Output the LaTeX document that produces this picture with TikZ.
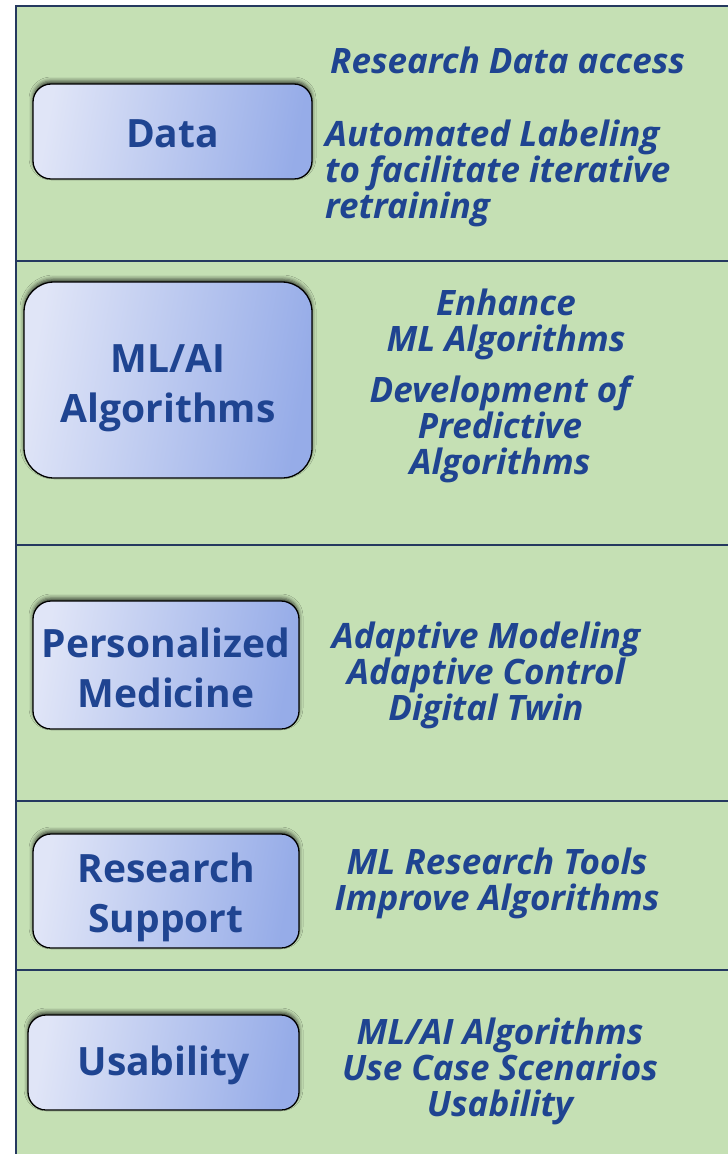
\documentclass[tikz,border=0pt]{standalone}
\usepackage{fontspec}
\setmainfont{Open Sans}
\usetikzlibrary{shadows.blur}

\definecolor{bandgreen}{HTML}{C5E0B4}
\definecolor{ruleblue}{HTML}{25395F}
\definecolor{inkblue}{HTML}{1F4491}
\definecolor{boxlight}{HTML}{E0E5F7}
\definecolor{boxdark}{HTML}{96ACE8}

\tikzset{
    topic/.style={draw=black, line width=1.3pt, rounded corners=18pt,
        left color=boxlight, right color=boxdark, shading angle=80,
        text=inkblue, font=\fontsize{39}{50}\selectfont\bfseries,
        align=center, inner sep=0pt, text height=84pt, text depth=0pt,
        blur shadow={shadow xshift=0pt, shadow yshift=3pt,
            shadow blur radius=4pt, shadow opacity=70}},
    note/.style={text=inkblue, font=\fontsize{35}{36}\selectfont\bfseries\itshape,
        inner sep=0pt},
    band/.style={draw=ruleblue, line width=2.5pt}
}

\begin{document}
\begin{tikzpicture}[x=1pt, y=-1pt]
    \useasboundingbox (0, 0) rectangle (728, 1154);
    \fill[bandgreen] (16, 6) rectangle (728, 1154);

    \draw[band] (16, 6) -- (728, 6);
    \draw[band] (16, 261) -- (728, 261);
    \draw[band] (16, 545) -- (728, 545);
    \draw[band] (16, 801) -- (728, 801);
    \draw[band] (16, 970) -- (728, 970);
    \draw[band] (16, 5) -- (16, 1154);

    \node[topic, minimum width=279pt, minimum height=95pt, text height=31pt] (data) at (172.5, 131.5) {Data};
    \node[topic, minimum width=288pt, minimum height=196pt, rounded corners=30pt] (mlai) at (168, 380) {ML/AI\\Algorithms};
    \node[topic, minimum width=266pt, minimum height=128pt] (person) at (166, 665) {Personalized\\Medicine};
    \node[topic, minimum width=266pt, minimum height=114pt, text height=82pt] (support) at (166, 891) {Research\\Support};
    \node[topic, minimum width=271pt, minimum height=95pt, text height=25pt] (usab) at (163.5, 1062.5) {Usability};

    \node[note, anchor=north west] (access) at (330, 47) {Research Data access};
    \node[note, anchor=north west, align=left] (labeling) at (325, 120) {Automated Labeling\\to facilitate iterative\\retraining};
    \node[note, anchor=north, align=center] (enhance) at (506, 289) {Enhance\\ML Algorithms};
    \node[note, anchor=north, align=center] (predict) at (500, 376) {Development of\\Predictive\\Algorithms};
    \node[note, anchor=north, align=center] (adaptive) at (486, 622) {Adaptive Modeling\\Adaptive Control\\Digital Twin};
    \node[note, anchor=north, align=center] (tools) at (497, 848) {ML Research Tools\\Improve Algorithms};
    \node[note, anchor=north, align=center] (scenarios) at (500, 1018) {ML/AI Algorithms\\Use Case Scenarios\\Usability};
\end{tikzpicture}
\end{document}
